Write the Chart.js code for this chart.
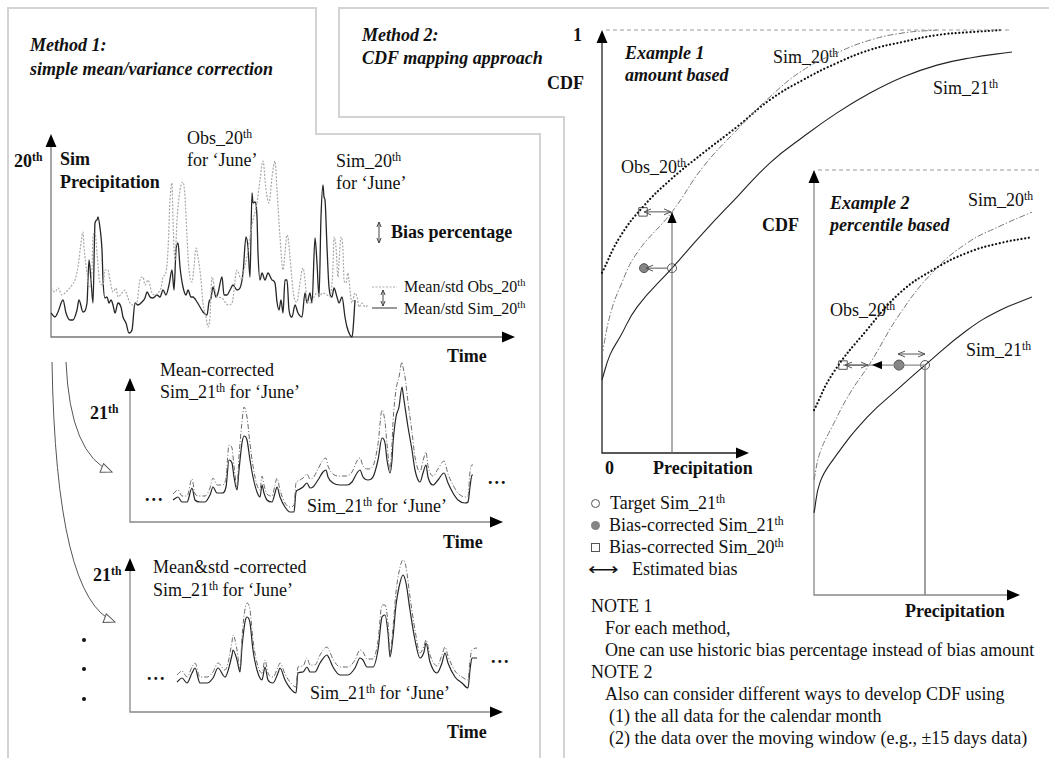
<!DOCTYPE html>
<html>
<head>
<meta charset="utf-8">
<script src="https://cdn.jsdelivr.net/npm/chart.js@4.4.1/dist/chart.umd.min.js"></script>
<style>
body { margin:0; background:#fff; }
#page { position:relative; width:1049px; height:758px; overflow:hidden; background:#fff;
  font-family:"Liberation Serif","Times New Roman",serif; color:#111; }
#page canvas { position:absolute; }
.t { position:absolute; white-space:nowrap; font-size:18px; line-height:1; transform:translateY(-50%); }
.b { font-weight:bold; }
.bi { font-weight:bold; font-style:italic; }
.sm { font-size:16px; }
.s { font-size:0.65em; position:relative; top:-0.55em; }
.ln { position:absolute; background:#d3d3d3; }
.sym { position:absolute; box-sizing:border-box; }
</style>
</head>
<body>
<div id="page">
  <!-- frames -->
  <div class="ln" style="left:7px;top:7px;width:2px;height:760px"></div>
  <div class="ln" style="left:7px;top:7px;width:310px;height:2px"></div>
  <div class="ln" style="left:315px;top:7px;width:2px;height:128px"></div>
  <div class="ln" style="left:315px;top:133px;width:226px;height:2px"></div>
  <div class="ln" style="left:539px;top:133px;width:2px;height:630px"></div>
  <div class="ln" style="left:338px;top:7px;width:720px;height:2px"></div>
  <div class="ln" style="left:338px;top:7px;width:2px;height:111px"></div>
  <div class="ln" style="left:338px;top:116px;width:227px;height:2px"></div>
  <div class="ln" style="left:563px;top:116px;width:2px;height:650px"></div>

  <!-- method 1 -->
  <div class="t bi" style="left:30px;top:45px">Method 1:</div>
  <div class="t bi" style="left:30px;top:69px">simple mean/variance correction</div>
  <div class="t b" style="left:14px;top:161px">20<span class="s">th</span></div>
  <div class="t b" style="left:60px;top:159px">Sim</div>
  <div class="t b" style="left:60px;top:182px">Precipitation</div>
  <div class="t" style="left:187px;top:138px">Obs_20<span class="s">th</span></div>
  <div class="t" style="left:187px;top:160px">for ‘June’</div>
  <div class="t" style="left:336px;top:161px">Sim_20<span class="s">th</span></div>
  <div class="t" style="left:336px;top:183px">for ‘June’</div>
  <div class="t b" style="left:391px;top:232px">Bias percentage</div>
  <div class="t sm" style="left:404px;top:287px">Mean/std Obs_20<span class="s">th</span></div>
  <div class="t sm" style="left:404px;top:309px">Mean/std Sim_20<span class="s">th</span></div>
  <div class="t b" style="left:447px;top:356px">Time</div>

  <div class="t b" style="left:90px;top:413px">21<span class="s">th</span></div>
  <div class="t" style="left:160px;top:370px">Mean-corrected</div>
  <div class="t" style="left:160px;top:392px">Sim_21<span class="s">th</span> for ‘June’</div>
  <div class="t b" style="left:145px;top:495px;letter-spacing:2px">...</div>
  <div class="t b" style="left:488px;top:478px;letter-spacing:2px">...</div>
  <div class="t" style="left:307px;top:506px">Sim_21<span class="s">th</span> for ‘June’</div>
  <div class="t b" style="left:443px;top:542px">Time</div>

  <div class="t b" style="left:93px;top:575px">21<span class="s">th</span></div>
  <div class="t" style="left:153px;top:567px">Mean&amp;std -corrected</div>
  <div class="t" style="left:153px;top:590px">Sim_21<span class="s">th</span> for ‘June’</div>
  <div class="sym" style="left:82px;top:638px;width:4px;height:4px;border-radius:2px;background:#111"></div>
  <div class="sym" style="left:82px;top:667px;width:4px;height:4px;border-radius:2px;background:#111"></div>
  <div class="sym" style="left:82px;top:697px;width:4px;height:4px;border-radius:2px;background:#111"></div>
  <div class="t b" style="left:147px;top:674px;letter-spacing:2px">...</div>
  <div class="t b" style="left:491px;top:657px;letter-spacing:2px">...</div>
  <div class="t" style="left:310px;top:693px">Sim_21<span class="s">th</span> for ‘June’</div>
  <div class="t b" style="left:447px;top:732px">Time</div>

  <!-- method 2 -->
  <div class="t bi" style="left:362px;top:35px">Method 2:</div>
  <div class="t bi" style="left:362px;top:58px">CDF mapping approach</div>
  <div class="t b" style="left:573px;top:35px">1</div>
  <div class="t b" style="left:547px;top:83px">CDF</div>
  <div class="t bi" style="left:625px;top:53px">Example 1</div>
  <div class="t bi" style="left:625px;top:75px">amount based</div>
  <div class="t" style="left:773px;top:57px">Sim_20<span class="s">th</span></div>
  <div class="t" style="left:933px;top:88px">Sim_21<span class="s">th</span></div>
  <div class="t" style="left:621px;top:167px">Obs_20<span class="s">th</span></div>
  <div class="t b" style="left:605px;top:468px">0</div>
  <div class="t b" style="left:653px;top:468px">Precipitation</div>

  <div class="t b" style="left:762px;top:225px">CDF</div>
  <div class="t bi" style="left:830px;top:203px">Example 2</div>
  <div class="t bi" style="left:830px;top:225px">percentile based</div>
  <div class="t" style="left:968px;top:200px">Sim_20<span class="s">th</span></div>
  <div class="t" style="left:830px;top:310px">Obs_20<span class="s">th</span></div>
  <div class="t" style="left:966px;top:350px">Sim_21<span class="s">th</span></div>
  <div class="t b" style="left:905px;top:611px">Precipitation</div>

  <div class="sym" style="left:591px;top:499px;width:9px;height:9px;border-radius:5px;border:1px solid #555"></div>
  <div class="t" style="left:610px;top:503px">Target Sim_21<span class="s">th</span></div>
  <div class="sym" style="left:591px;top:521px;width:9px;height:9px;border-radius:5px;background:#858585"></div>
  <div class="t" style="left:609px;top:525px">Bias-corrected Sim_21<span class="s">th</span></div>
  <div class="sym" style="left:591px;top:543px;width:9px;height:9px;border:1px solid #555"></div>
  <div class="t" style="left:609px;top:547px">Bias-corrected Sim_20<span class="s">th</span></div>
  <div class="t" style="left:588px;top:569px;font-family:'DejaVu Sans';font-size:17px;transform:translateY(-50%) scaleX(1.25);transform-origin:left center">⟷</div>
  <div class="t" style="left:632px;top:569px">Estimated bias</div>
  <div class="t" style="left:591px;top:606px">NOTE 1</div>
  <div class="t" style="left:605px;top:628px">For each method,</div>
  <div class="t" style="left:605px;top:650px">One can use historic bias percentage instead of bias amount</div>
  <div class="t" style="left:591px;top:672px">NOTE 2</div>
  <div class="t" style="left:605px;top:694px">Also can consider different ways to develop CDF using</div>
  <div class="t" style="left:609px;top:716px">(1) the all data for the calendar month</div>
  <div class="t" style="left:609px;top:738px">(2) the data over the moving window (e.g., ±15 days data)</div>

  <canvas id="c1" width="520" height="225" style="left:8px;top:125px"></canvas>
  <canvas id="c2" width="480" height="185" style="left:40px;top:352px"></canvas>
  <canvas id="c3" width="480" height="380" style="left:40px;top:352px"></canvas>
  <canvas id="c4" width="465" height="455" style="left:580px;top:15px"></canvas>
  <canvas id="c5" width="250" height="455" style="left:795px;top:155px"></canvas>
</div>
<script>
// panel 1 : 20th century, June
var sim20Days = [0,4,7,12,15,19,22,26,28,32,36,38,40,42,44,46,47,49,51,52,54,56,58,60,62,64,67,70,72,75,78,81,84,87,91,94,96,99,102,106,109,112,115,118,121,123,125,127,129,132,135,137,140,142,146,149,152,156,158,160,162,165,167,171,173,176,179,182,186,189,192,195,197,199,201,202,204,206,207,209,211,214,217,221,224,226,228,230,232,234,236,238,241,244,247,251,254,256,259,261,264,266,268,270,272,273,274,276,278,281,283,286,288,291,294,296,299,301,302,304];
var sim20Precip = [24,20,25,37,24,17,17,27,37,25,34,77,57,34,114,117,120,109,87,57,39,40,34,37,32,24,34,30,20,14,4,7,34,32,35,39,45,40,39,42,40,47,42,52,67,47,87,94,70,50,42,47,40,40,35,30,25,22,35,39,50,40,44,60,42,42,47,52,47,49,64,100,90,60,144,134,135,120,84,57,64,57,64,57,54,35,27,37,24,57,57,27,20,32,24,20,44,34,44,34,99,74,40,120,152,140,137,90,50,40,49,40,34,40,20,10,2,0,7,37];
var obs20Days = [0,4,7,11,14,17,21,24,27,30,32,33,36,38,41,42,44,46,49,52,54,57,59,62,65,67,71,74,76,79,82,86,89,92,94,97,101,104,107,110,112,115,117,119,121,122,124,126,129,132,134,136,138,141,143,145,147,150,152,155,157,159,161,162,165,167,171,174,177,181,186,189,191,193,196,199,202,206,209,212,215,218,221,224,226,229,232,234,236,237,239,241,243,246,248,251,252,254,256,258,261,263,266,269,272,276,279,282,283,285,287,288,290,292,293,295,297,298,301,304,306,308,311,314,317];
var obs20Precip = [49,45,49,42,44,47,52,57,70,94,105,90,64,50,67,100,105,84,54,52,67,67,57,45,49,40,44,47,42,34,32,35,57,60,52,57,44,42,44,49,60,65,87,137,154,117,77,117,147,155,140,100,67,55,70,89,80,57,34,20,10,20,60,57,42,40,39,35,32,34,67,60,57,67,80,100,117,134,157,176,147,134,160,176,147,100,67,84,102,100,80,57,40,35,47,67,69,57,37,34,35,40,44,42,44,42,40,70,100,90,60,74,100,87,57,54,64,57,34,44,40,30,34,30,32];

// panel 2 : 21st century, mean corrected
var sim21Days = [43,48,52,57,62,65,70,75,80,83,87,92,96,99,102,104,107,109,112,114,117,120,123,127,130,132,134,137,142,145,147,150,155,160,164,166,168,173,177,180,183,188,193,196,198,203,210,217,222,227,230,233,238,243,248,252,255,257,260,262,263,266,269,272,273,275,278,282,285,290,293,296,298,303,308,314,318,323,328,335,338,340,342,343];
var sim21Precip = [22,25,20,20,34,22,20,20,27,35,29,29,35,62,59,45,32,52,79,86,82,62,45,30,25,37,29,22,20,29,35,25,15,10,10,30,32,35,39,34,35,42,50,52,45,39,37,37,40,49,52,45,42,45,62,84,79,62,49,62,79,105,115,135,129,115,95,72,52,40,49,57,45,37,42,49,39,29,22,19,20,35,47,47];
var meanCorrPrecip = [28,32,26,26,43,28,26,26,34,44,37,37,44,77,74,56,35,66,100,115,105,78,56,37,32,46,37,28,26,37,44,32,19,15,17,39,41,44,48,43,44,53,62,64,56,48,46,46,50,61,64,56,53,56,78,112,100,78,52,78,100,132,145,160,155,145,120,90,65,50,61,70,56,46,53,61,48,37,29,25,26,50,57,57];

// panel 3 : 21st century, mean & std corrected
var sim21DaysB = [47,52,57,62,65,70,77,83,88,95,102,103,107,110,112,115,117,120,123,127,132,135,138,143,148,150,155,160,166,168,173,177,180,185,190,197,199,203,210,218,225,230,233,237,243,248,252,255,258,260,263,266,269,273,276,280,285,290,294,296,300,307,312,315,318,325,332,338,340,342,347];
var sim21PrecipB = [30,34,29,39,44,29,29,34,44,35,57,62,52,40,65,90,95,89,62,42,32,45,32,29,39,44,32,24,19,39,40,45,40,40,49,57,54,45,37,37,44,54,52,45,45,62,95,97,79,55,75,107,125,137,129,102,72,54,60,69,50,39,49,59,49,35,29,24,42,54,54];
var stdCorrPrecip = [37,41,35,45,49,35,35,40,49,42,70,77,62,42,75,103,109,102,72,49,39,52,39,35,45,49,38,30,25,45,46,54,47,47,57,65,62,53,45,45,52,62,60,53,53,71,107,107,89,59,85,120,140,152,145,115,82,59,66,72,57,46,57,65,56,41,35,32,52,62,64];

// example 1 : amount based CDF
var ex1Sim21P = [0,8,18,35,70,101,135,168,201,235,268,301,335,368,410];
var ex1Sim21Cdf = [0.173,0.232,0.274,0.345,0.437,0.520,0.605,0.686,0.747,0.804,0.851,0.889,0.917,0.934,0.948];
var ex1ObsP = [0,18,41,68,101,135,168,201,235,268,301,335,368,401];
var ex1ObsCdf = [0.426,0.511,0.582,0.645,0.709,0.771,0.835,0.882,0.922,0.953,0.972,0.988,0.995,1.0];
var ex1Sim20P = [0,8,18,35,70,101,135,168,201,235,268,301,335];
var ex1Sim20Cdf = [0.232,0.325,0.392,0.473,0.570,0.676,0.764,0.842,0.905,0.946,0.976,0.993,1.0];
var ex1Target = [70, 0.437];
var ex1Corr21 = [42, 0.437];
var ex1Corr20 = [41, 0.570];

// example 2 : percentile based CDF
var ex2Sim21P = [0,6,19,53,86,111,153,186,218];
var ex2Sim21Cdf = [0.193,0.265,0.318,0.418,0.489,0.541,0.623,0.670,0.701];
var ex2ObsP = [0,19,53,86,119,153,186,218];
var ex2ObsCdf = [0.435,0.522,0.624,0.711,0.765,0.805,0.828,0.842];
var ex2Sim20P = [0,6,19,36,56,86,119,153,186,218];
var ex2Sim20Cdf = [0.271,0.335,0.400,0.475,0.545,0.662,0.760,0.828,0.868,0.901];
var ex2Target = [111, 0.541];
var ex2Corr21 = [85, 0.541];
var ex2Sim20Hit = [58, 0.541];
var ex2Corr20 = [29, 0.541];
var ex2BiasSpan = [84, 111, 0.567];

function pts(xs, ys) {
    return xs.map(function (x, i) { return { x: x, y: ys[i] }; });
}

function line(xs, ys, color, width, dash, cap, smooth) {
    return {
        data: pts(xs, ys), showLine: true, borderColor: color, borderWidth: width,
        borderDash: dash || [], borderCapStyle: cap || 'butt', pointRadius: 0, pointHoverRadius: 0,
        cubicInterpolationMode: smooth ? 'default' : 'monotone', tension: smooth ? 0.45 : 0,
        clip: false, fill: false
    };
}

function marker(p, style, fillCol, size) {
    return {
        data: [{ x: p[0], y: p[1] }], showLine: false, pointStyle: style, pointRadius: size,
        pointBackgroundColor: fillCol, pointBorderColor: '#555', pointBorderWidth: 1, clip: false
    };
}

function arrowHead(ctx, x, y, ang, size, kind) {
    ctx.save();
    ctx.translate(x, y);
    ctx.rotate(ang);
    ctx.beginPath();
    ctx.moveTo(-size, -size * 0.42);
    ctx.lineTo(0, 0);
    ctx.lineTo(-size, size * 0.42);
    if (kind == 'filled') {
        ctx.closePath(); ctx.fill();
    } else if (kind == 'hollow') {
        ctx.closePath(); ctx.fillStyle = '#fff'; ctx.fill(); ctx.stroke();
    } else {
        ctx.stroke();
    }
    ctx.restore();
}

function arrowLine(ctx, x1, y1, x2, y2, startKind, endKind, size) {
    ctx.beginPath(); ctx.moveTo(x1, y1); ctx.lineTo(x2, y2); ctx.stroke();
    var a = Math.atan2(y2 - y1, x2 - x1);
    if (endKind) arrowHead(ctx, x2, y2, a, size, endKind);
    if (startKind) arrowHead(ctx, x1, y1, a + Math.PI, size, startKind);
}

function curvedArrow(chart, x0, y0, cx, cy, x1, y1) {
    var ctx = chart.ctx;
    ctx.save();
    ctx.translate(-chart.canvas.offsetLeft, -chart.canvas.offsetTop);
    ctx.strokeStyle = '#555'; ctx.lineWidth = 1;
    ctx.beginPath(); ctx.moveTo(x0, y0); ctx.quadraticCurveTo(cx, cy, x1, y1); ctx.stroke();
    arrowHead(ctx, x1, y1, Math.atan2(y1 - cy, x1 - cx), 11, 'hollow');
    ctx.restore();
}

var axesPlugin = {
    id: 'axes',
    beforeDatasetsDraw: function (chart, args, opts) {
        var ctx = chart.ctx, x = chart.scales.x, y = chart.scales.y;
        var x0 = x.getPixelForValue(0), y0 = y.getPixelForValue(0);
        var xt = x.getPixelForValue(opts.xTip), yt = y.getPixelForValue(opts.yTip);
        ctx.save();
        ctx.strokeStyle = opts.color; ctx.lineWidth = 1.3;
        ctx.beginPath(); ctx.moveTo(x0, yt + 8); ctx.lineTo(x0, y0); ctx.lineTo(xt - 8, y0); ctx.stroke();
        ctx.fillStyle = '#000';
        arrowHead(ctx, x0, yt, -Math.PI / 2, 13, 'filled');
        arrowHead(ctx, xt, y0, 0, 13, 'filled');
        ctx.restore();
    }
};

function makeChart(id, datasets, xMax, yMax, pad, axes, extra) {
    return new Chart(document.getElementById(id), {
        type: 'scatter',
        data: { datasets: datasets },
        options: {
            responsive: false, animation: false, devicePixelRatio: 1, events: [],
            layout: { padding: pad },
            scales: {
                x: { type: 'linear', display: false, min: 0, max: xMax },
                y: { type: 'linear', display: false, min: 0, max: yMax }
            },
            plugins: { legend: { display: false }, tooltip: { enabled: false }, axes: axes }
        },
        plugins: [axesPlugin, extra]
    });
}

var simCol = '#262626', obsGrey = '#a9a9a9', dashDot = [5, 2, 1, 2];

makeChart('c1', [
    line(obs20Days, obs20Precip, obsGrey, 1.2, [2, 1.5]),
    line(sim20Days, sim20Precip, simCol, 1.3)
], 464, 203, { left: 43, right: 13, top: 9, bottom: 13 }, { xTip: 464, yTip: 203, color: '#777' }, {
    id: 'legend1',
    afterDraw: function (chart) {
        var ctx = chart.ctx;
        ctx.save();
        ctx.translate(-chart.canvas.offsetLeft, -chart.canvas.offsetTop);
        ctx.strokeStyle = '#444'; ctx.lineWidth = 1;
        arrowLine(ctx, 379, 222, 379, 243, 'open', 'open', 5);
        arrowLine(ctx, 383, 290, 383, 306, 'open', 'open', 5);
        ctx.strokeStyle = '#333';
        ctx.beginPath(); ctx.moveTo(372, 308); ctx.lineTo(397, 308); ctx.stroke();
        ctx.strokeStyle = obsGrey; ctx.setLineDash([2, 1.5]);
        ctx.beginPath(); ctx.moveTo(372, 287); ctx.lineTo(397, 287); ctx.stroke();
        ctx.restore();
    }
});

makeChart('c2', [
    line(sim21Days, meanCorrPrecip, '#6a6a6a', 1, dashDot),
    line(sim21Days, sim21Precip, simCol, 1.2)
], 373, 144, { left: 90, right: 17, top: 26, bottom: 15 }, { xTip: 373, yTip: 144, color: '#888' }, {
    id: 'arc1',
    afterDraw: function (chart) { curvedArrow(chart, 66, 362, 70, 455, 112, 472); }
});

makeChart('c3', [
    line(sim21DaysB, stdCorrPrecip, '#6a6a6a', 1, dashDot),
    line(sim21DaysB, sim21PrecipB, simCol, 1.2)
], 373, 154, { left: 90, right: 17, top: 206, bottom: 20 }, { xTip: 373, yTip: 154, color: '#888' }, {
    id: 'arc2',
    afterDraw: function (chart) { curvedArrow(chart, 52, 362, 56, 600, 115, 622); }
});

makeChart('c4', [
    line([4, 410], [1, 1], '#9a9a9a', 1, [4, 3]),
    line([ex1Target[0], ex1Target[0]], [0, ex1Corr20[1]], '#777', 1.2),
    line(ex1Sim20P, ex1Sim20Cdf, '#777', 1, [6, 2, 1.5, 2], null, true),
    line(ex1ObsP, ex1ObsCdf, '#111', 2.2, [0.1, 3.6], 'round', true),
    line(ex1Sim21P, ex1Sim21Cdf, '#222', 1.1, null, null, true),
    marker(ex1Target, 'circle', '#fff', 4.5),
    marker(ex1Corr21, 'circle', '#858585', 4.5),
    marker(ex1Corr20, 'rect', '#fff', 6)
], 413, 1, { left: 22, right: 30, top: 15, bottom: 17 }, { xTip: 147, yTip: 1, color: '#222' }, {
    id: 'marks1',
    afterDatasetsDraw: function (chart) {
        var ctx = chart.ctx, x = chart.scales.x, y = chart.scales.y;
        ctx.save();
        ctx.strokeStyle = '#555'; ctx.fillStyle = '#000'; ctx.lineWidth = 1;
        var yb = y.getPixelForValue(ex1Corr20[1]);
        arrowLine(ctx, x.getPixelForValue(ex1Corr20[0]) + 1, yb, x.getPixelForValue(ex1Target[0]) - 1, yb, 'open', 'open', 7);
        arrowHead(ctx, x.getPixelForValue(ex1Target[0]), yb, -Math.PI / 2, 11, 'filled');
        var yc = y.getPixelForValue(ex1Target[1]);
        arrowLine(ctx, x.getPixelForValue(ex1Corr21[0]) + 2, yc, x.getPixelForValue(ex1Target[0]) - 5, yc, 'open', null, 7);
        ctx.restore();
    }
});

makeChart('c5', [
    line([4, 226], [1, 1], '#9a9a9a', 1, [4, 3]),
    line([ex2Target[0], ex2Target[0]], [0, ex2Target[1]], '#8a8a8a', 1.6),
    line([ex2Corr20[0], ex2Target[0]], [ex2Target[1], ex2Target[1]], '#8a8a8a', 1.2),
    line(ex2Sim20P, ex2Sim20Cdf, '#777', 1, [6, 2, 1.5, 2], null, true),
    line(ex2ObsP, ex2ObsCdf, '#111', 2.2, [0.1, 3.6], 'round', true),
    line(ex2Sim21P, ex2Sim21Cdf, '#222', 1.1, null, null, true),
    marker(ex2Target, 'circle', '#fff', 4.5),
    marker(ex2Corr21, 'circle', '#858585', 5),
    marker(ex2Corr20, 'rect', '#fff', 6)
], 221, 1, { left: 19, right: 10, top: 15, bottom: 15 }, { xTip: 206, yTip: 1, color: '#888' }, {
    id: 'marks2',
    afterDatasetsDraw: function (chart) {
        var ctx = chart.ctx, x = chart.scales.x, y = chart.scales.y;
        ctx.save();
        ctx.strokeStyle = '#555'; ctx.fillStyle = '#000'; ctx.lineWidth = 1;
        var yc = y.getPixelForValue(ex2Target[1]);
        arrowHead(ctx, x.getPixelForValue(ex2Sim20Hit[0]), yc, Math.PI, 10, 'filled');
        arrowLine(ctx, x.getPixelForValue(ex2Corr20[0]) + 2, yc, x.getPixelForValue(ex2Sim20Hit[0]) - 4, yc, 'open', 'open', 7);
        var ys = y.getPixelForValue(ex2BiasSpan[2]);
        arrowLine(ctx, x.getPixelForValue(ex2BiasSpan[0]), ys, x.getPixelForValue(ex2BiasSpan[1]), ys, 'open', 'open', 7);
        ctx.restore();
    }
});
</script>
</body>
</html>
